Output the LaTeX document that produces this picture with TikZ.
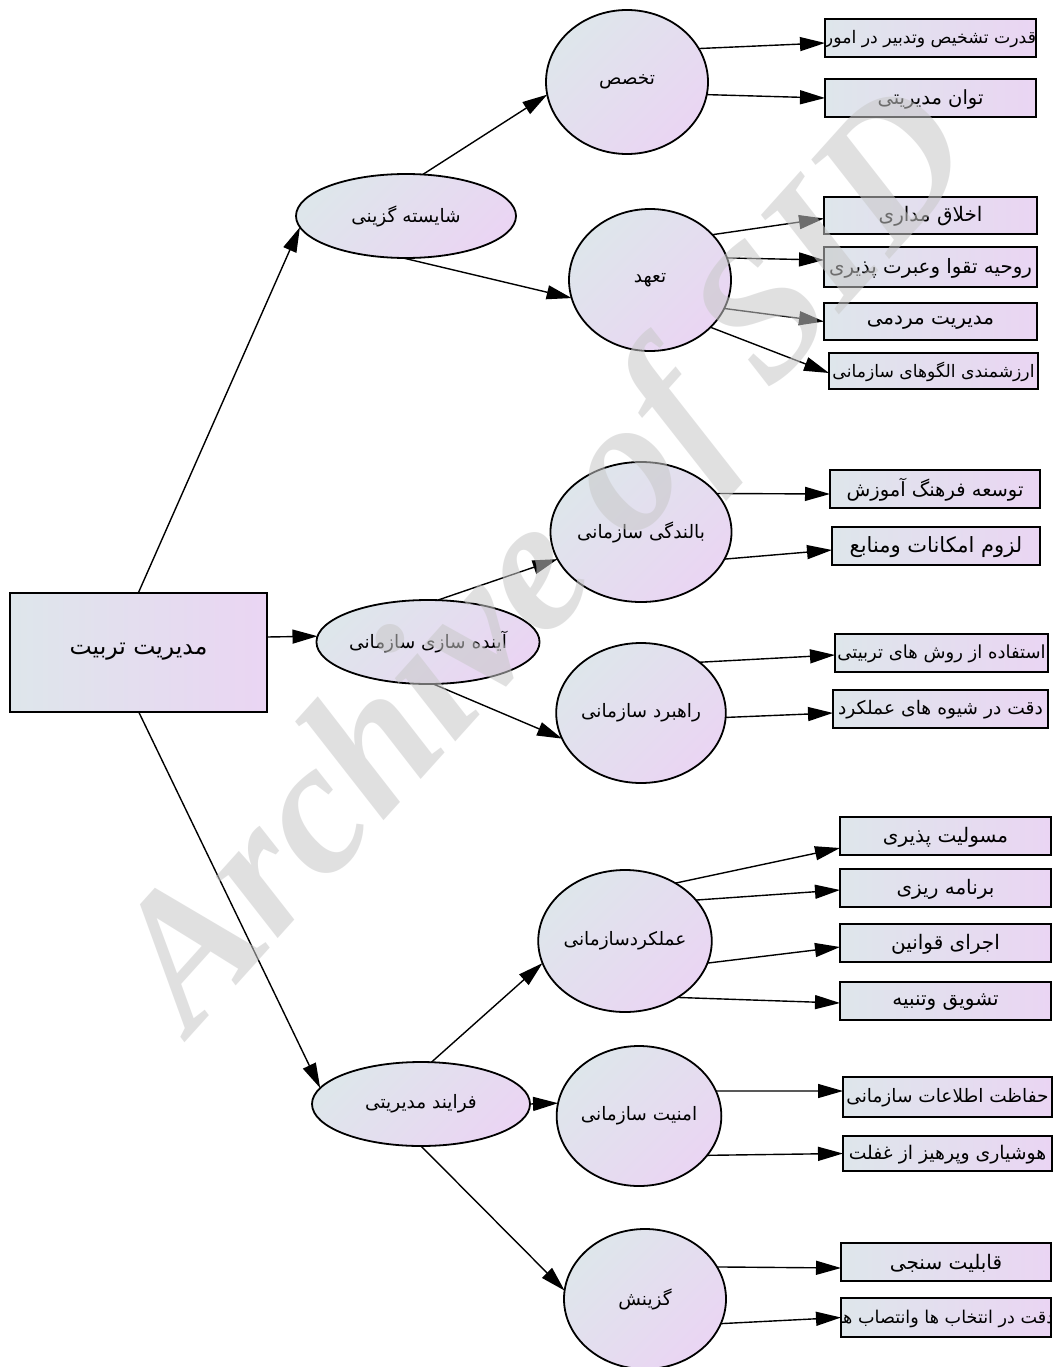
\documentclass[tikz,border=0pt]{standalone}
\usepackage{fontspec}
\usetikzlibrary{shapes.geometric,arrows.meta,calc}
\TeXXeTstate=1
\newfontfamily\fa[Script=Arabic]{DejaVu Sans}
\newfontfamily\wmfont{Liberation Serif}
\definecolor{cA}{RGB}{222,230,235}
\definecolor{cB}{RGB}{234,213,243}
\definecolor{wmgray}{RGB}{200,200,200}
\tikzset{
  every node/.style={inner sep=0pt, outer sep=0pt},
  fatxt/.style={font=\fa\fontsize{18.5}{22}\selectfont},
  oval/.style={ellipse, draw=black, line width=1.8pt, top color=cA, bottom color=cB, shading angle=45, fatxt},
  leaf/.style={rectangle, draw=black, line width=2pt, left color=cA, right color=cB},
  link/.style={line width=1.4pt, -{Triangle[length=25pt,width=14pt]}},
}
\newcommand\leaftext[2][20]{\node[font=\fa\fontsize{#1}{#1}\selectfont] at ([yshift=-1pt]path picture bounding box.center) {#2};}
\begin{document}
\begin{tikzpicture}[x=1pt,y=-1pt]
\useasboundingbox[fill=white] (0,0) rectangle (1054,1367);
% root
\node[rectangle, draw=black, line width=2pt, left color=cA, right color=cB,
      minimum width=257pt, minimum height=119pt, font=\fa\fontsize{23.5}{26}\selectfont]
      (M) at (138.5,652) {\beginR مدیریت تربیت\endR};
% second level
\node[oval, minimum width=220pt, minimum height=84pt] (E1) at (406,216) {\beginR شایسته گزینی\endR};
\node[oval, minimum width=220pt, minimum height=84pt] (E2) at (428,642) {\beginR آینده سازی سازمانی\endR};
\node[oval, minimum width=218pt, minimum height=84pt] (E3) at (421,1104) {\beginR فرایند مدیریتی\endR};
% third level
\node[oval, minimum width=162pt, minimum height=144pt] (C1) at (627,82) {\beginR تخصص\endR};
\node[oval, minimum width=162pt, minimum height=142pt] (C2) at (650,280) {\beginR تعهد\endR};
\node[oval, minimum width=162pt, minimum height=140pt] (C3) at (641,532) {\beginR بالندگی سازمانی\endR};
\node[oval, minimum width=160pt, minimum height=140pt] (C4) at (641,713) {\beginR راهبرد سازمانی\endR};
\node[oval, minimum width=160pt, minimum height=142pt] (C5) at (625,941) {\beginR عملکردسازمانی\endR};
\node[oval, minimum width=160pt, minimum height=140pt] (C6) at (639,1116) {\beginR امنیت سازمانی\endR};
\node[oval, minimum width=162pt, minimum height=140pt] (C7) at (645,1299) {\beginR گزینش\endR};
% leaves
\node[leaf, minimum width=211pt, minimum height=38pt, path picture={\leaftext[17.3]{\beginR قدرت تشخیص وتدبیر در امور\endR}}] (B1) at (930.5,38) {};
\node[leaf, minimum width=211pt, minimum height=38pt, path picture={\leaftext[19.5]{\beginR توان مدیریتی\endR}}] (B2) at (930.5,98) {};
\node[leaf, minimum width=213pt, minimum height=37pt, path picture={\leaftext{\beginR اخلاق مداری\endR}}] (B3) at (930.5,215.5) {};
\node[leaf, minimum width=213pt, minimum height=40pt, path picture={\leaftext[19.8]{\beginR روحیه تقوا وعبرت پذیری\endR}}] (B4) at (930.5,267) {};
\node[leaf, minimum width=213pt, minimum height=37pt, path picture={\leaftext{\beginR مدیریت مردمی\endR}}] (B5) at (930.5,321.5) {};
\node[leaf, minimum width=209pt, minimum height=36pt, path picture={\leaftext[17.2]{\beginR ارزشمندی الگوهای سازمانی\endR}}] (B6) at (933.5,371) {};
\node[leaf, minimum width=210pt, minimum height=38pt, path picture={\leaftext[19.5]{\beginR توسعه فرهنگ آموزش\endR}}] (B7) at (935,489) {};
\node[leaf, minimum width=208pt, minimum height=38pt, path picture={\leaftext[21]{\beginR لزوم امکانات ومنابع\endR}}] (B8) at (936,546) {};
\node[leaf, minimum width=213pt, minimum height=38pt, path picture={\leaftext[18]{\beginR استفاده از روش های تربیتی\endR}}] (B9) at (941.5,653) {};
\node[leaf, minimum width=215pt, minimum height=38pt, path picture={\leaftext[18.7]{\beginR دقت در شیوه های عملکرد\endR}}] (B10) at (940.5,709) {};
\node[leaf, minimum width=211pt, minimum height=38pt, path picture={\leaftext{\beginR مسولیت پذیری\endR}}] (B11) at (945.5,836) {};
\node[leaf, minimum width=211pt, minimum height=38pt, path picture={\leaftext{\beginR برنامه ریزی\endR}}] (B12) at (945.5,888) {};
\node[leaf, minimum width=211pt, minimum height=38pt, path picture={\leaftext{\beginR اجرای قوانین\endR}}] (B13) at (945.5,943) {};
\node[leaf, minimum width=211pt, minimum height=38pt, path picture={\leaftext{\beginR تشویق وتنبیه\endR}}] (B14) at (945.5,1001) {};
\node[leaf, minimum width=209pt, minimum height=40pt, path picture={\leaftext[18.5]{\beginR حفاظت اطلاعات سازمانی\endR}}] (B15) at (947.5,1097) {};
\node[leaf, minimum width=209pt, minimum height=35pt, path picture={\leaftext[18.8]{\beginR هوشیاری وپرهیز از غفلت\endR}}] (B16) at (947.5,1153.5) {};
\node[leaf, minimum width=210pt, minimum height=38pt, path picture={\leaftext{\beginR قابلیت سنجی\endR}}] (B17) at (946,1262) {};
\node[leaf, minimum width=210pt, minimum height=39pt, path picture={\leaftext[17.6]{\beginR دقت در انتخاب ها وانتصاب ها\endR}}] (B18) at (946,1317.5) {};
% connectors
\draw[link] (M.north) -- (E1.186);
\draw[link] ($(M.east)+(0,-15)$) -- (E2.177);
\draw[link] (M.south) -- (E3.171);
\draw[link] (E1.68) -- (C1.189);
\draw[link] (E1.266) -- (C2.193);
\draw[link] (E2.77) -- (C3.198);
\draw[link] (E2.277) -- (C4.198);
\draw[link] (E3.76) -- (C5.195);
\draw[link] (E3.0) -- (C6.171);
\draw[link] (E3.270) -- (C7.174);
\draw[link] (C1.25) -- ($(B1.west)+(0,5)$);
\draw[link] (C1.-9) -- (B2.west);
\draw[link] (C2.36) -- ($(B3.west)+(0,3)$);
\draw[link] (C2.16) -- ($(B4.west)+(0,-7)$);
\draw[link] (C2.-21) -- (B5.west);
\draw[link] (C2.-38) -- ($(B6.west)+(0,2)$);
\draw[link] (C3.27) -- ($(B7.west)+(0,5)$);
\draw[link] (C3.-18) -- ($(B8.west)+(0,4)$);
\draw[link] (C4.41) -- ($(B9.west)+(0,2)$);
\draw[link] (C4.-3) -- ($(B10.west)+(0,4)$);
\draw[link] (C5.49) -- ($(B11.west)+(0,12)$);
\draw[link] (C5.30) -- ($(B12.west)+(0,2)$);
\draw[link] (C5.-15) -- ($(B13.west)+(0,4)$);
\draw[link] (C5.-47) -- ($(B14.west)+(0,2)$);
\draw[link] (C6.18) -- ($(B15.west)+(0,-6)$);
\draw[link] (C6.-30) -- (B16.west);
\draw[link] (C7.24) -- ($(B17.west)+(0,6)$);
\draw[link] (C7.-18) -- (B18.west);
% watermark
\node[rotate=48, text=wmgray, opacity=0.55, font=\wmfont\bfseries\itshape\fontsize{190}{190}\selectfont] (wm) at (552,565) {Archive of SID};
\end{tikzpicture}
\end{document}
